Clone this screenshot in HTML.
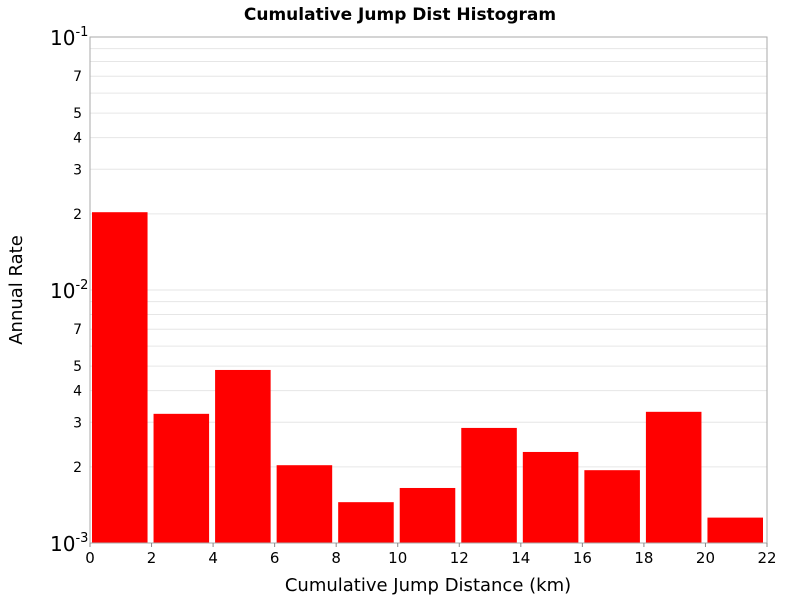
<!DOCTYPE html>
<html><head><meta charset="utf-8"><style>
body{margin:0;background:#fff;}
svg{display:block;font-family:"DejaVu Sans","Liberation Sans",sans-serif;}
</style></head><body>
<svg id="chart" width="800" height="600" xmlns="http://www.w3.org/2000/svg">
<text x="400" y="20" text-anchor="middle" font-size="17" font-weight="bold">Cumulative Jump Dist Histogram</text>
<g id="grid"></g>
<g id="bars"></g>
<rect x="90" y="37" width="677" height="506" fill="none" stroke="#aaa" stroke-width="1"/>
<g id="yaxis"></g>
<g id="xaxis"></g>
<text x="428" y="591" text-anchor="middle" font-size="18">Cumulative Jump Distance (km)</text>
<text transform="translate(22,290) rotate(-90)" text-anchor="middle" font-size="18">Annual Rate</text>
</svg>
<script>
const binStarts=[0,2,4,6,8,10,12,14,16,18,20];
const binWidth=2;
const rates=[0.0203,0.00324,0.00483,0.00203,0.00145,0.00165,0.00285,0.00229,0.00194,0.0033,0.00126];
const xTicks=[0,2,4,6,8,10,12,14,16,18,20,22];
const yMinorLabels=[2,3,4,5,7];
const NS="http://www.w3.org/2000/svg";
const L=90,R=767,T=37,B=543;
const xs=v=>L+(v-0)/(22-0)*(R-L);
const ys=v=>B-(Math.log10(v)-(-3))/2*(B-T);
function mk(tag,attrs,parent,text){const e=document.createElementNS(NS,tag);for(const k in attrs)e.setAttribute(k,attrs[k]);if(text!==undefined)e.textContent=text;parent.appendChild(e);return e;}
const grid=document.getElementById('grid'),bars=document.getElementById('bars'),ya=document.getElementById('yaxis'),xa=document.getElementById('xaxis');
for(let d=-3;d<-1;d++){for(let m=1;m<10;m++){const v=m*Math.pow(10,d);const y=ys(v);
 const g=mk('line',{x1:L,x2:R,y1:y,y2:y,stroke:'#e6e6e6','stroke-width':1},grid);
 
 if(yMinorLabels.includes(m)){const t=mk('text',{x:82,y:y+5,'text-anchor':'end','font-size':14},ya,String(m));
 }
}}
for(const d of [-3,-2,-1]){const y=ys(Math.pow(10,d));
 const t=mk('text',{x:50,y:y+8,'font-size':20},ya);
 
 mk('tspan',{},t,'10');mk('tspan',{dy:-9,'font-size':13},t,String(d));}
xTicks.forEach(v=>{const x=xs(v);
 const l=mk('line',{x1:x,x2:x,y1:B,y2:B+4,stroke:'#888'},xa);
 
 const t=mk('text',{x:x,y:B+20,'text-anchor':'middle','font-size':15},xa,String(v));
 });
binStarts.forEach((s,i)=>{const x0=xs(s)+2,x1=xs(s+binWidth)-4,y=ys(rates[i]);
 const r=mk('rect',{x:x0,y:y,width:x1-x0,height:B-y,fill:'#ff0000'},bars);
 });
</script>
</body></html>
